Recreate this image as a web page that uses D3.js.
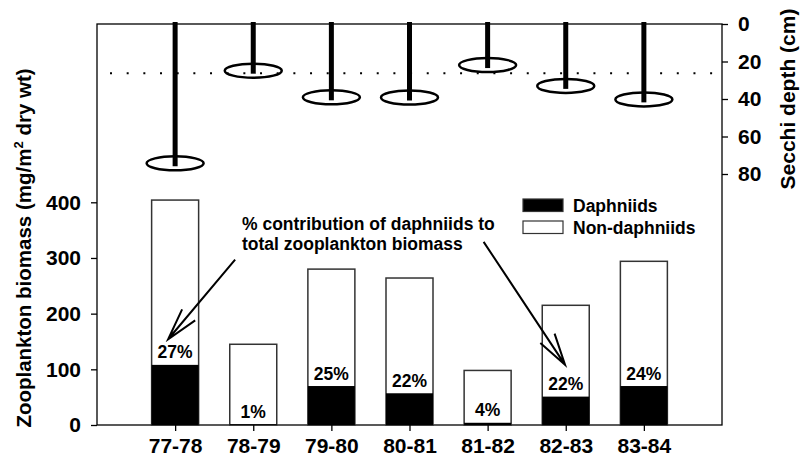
<!DOCTYPE html>
<html>
<head>
<meta charset="utf-8">
<script src="https://cdn.jsdelivr.net/npm/d3@7"></script>
<style>
  html, body { margin: 0; padding: 0; background: #fff; }
  svg { display: block; font-family: "Liberation Sans", Arial, sans-serif; font-weight: bold; }
</style>
</head>
<body>
<svg id="chart" width="800" height="462"></svg>
<script>
// ---- data ----
const categories = ["77-78", "78-79", "79-80", "80-81", "81-82", "82-83", "83-84"];
const totalBiomass = [404, 145, 280, 264, 98, 215, 294];
const daphniidBiomass = [108, 1.5, 70, 57, 4, 51, 70];
const pctLabels = ["27%", "1%", "25%", "22%", "4%", "22%", "24%"];
const secchiDepth = [74.3, 24.9, 39.1, 39.2, 21.9, 33, 40.2];
const secchiRef = 26.3;
const biomassTicks = [0, 100, 200, 300, 400];
const secchiTicks = [0, 20, 40, 60, 80];
const legendLabels = ["Daphniids", "Non-daphniids"];
const annotationLines = ["% contribution of daphniids to", "total zooplankton biomass"];

// ---- layout ----
const L = 97, R = 722, T = 24, B = 425;
const svg = d3.select("#chart");

const x = d3.scalePoint().domain(categories).range([L, R]).padding(1);
const yL = d3.scaleLinear().domain([0, 400]).range([B, 202.3]);
const yR = d3.scaleLinear().domain([0, 80]).range([T, 174]);
const barW = 47;

// frame
svg.append("rect").attr("x", L).attr("y", T).attr("width", R - L).attr("height", B - T)
  .attr("fill", "none").attr("stroke", "#000").attr("stroke-width", 1.3);

// reference dotted line
svg.append("line").attr("x1", 110).attr("x2", R).attr("y1", yR(secchiRef)).attr("y2", yR(secchiRef))
  .attr("stroke", "#000").attr("stroke-width", 2).attr("stroke-dasharray", "2,14.67");

// secchi sticks
svg.append("g").selectAll("line").data(categories).join("line")
  .attr("x1", d => x(d)).attr("x2", d => x(d))
  .attr("y1", yR(0) - 2).attr("y2", (d, i) => yR(secchiDepth[i]) + 3)
  .attr("stroke", "#000").attr("stroke-width", 5);
svg.append("g").selectAll("ellipse").data(categories).join("ellipse")
  .attr("cx", d => x(d)).attr("cy", (d, i) => yR(secchiDepth[i]))
  .attr("rx", 28.5).attr("ry", 7)
  .attr("fill", "none").attr("stroke", "#000").attr("stroke-width", 2.5);

// biomass bars
svg.append("g").selectAll("rect").data(categories).join("rect")
  .attr("x", d => x(d) - barW / 2).attr("width", barW)
  .attr("y", (d, i) => yL(totalBiomass[i])).attr("height", (d, i) => yL(0) - yL(totalBiomass[i]))
  .attr("fill", "#fff").attr("stroke", "#333").attr("stroke-width", 1.5);
svg.append("g").selectAll("rect").data(categories).join("rect")
  .attr("x", d => x(d) - barW / 2).attr("width", barW)
  .attr("y", (d, i) => yL(daphniidBiomass[i])).attr("height", (d, i) => yL(0) - yL(daphniidBiomass[i]))
  .attr("fill", "#000");

// percent labels
svg.append("g").selectAll("text").data(categories).join("text")
  .attr("x", d => x(d)).attr("y", (d, i) => yL(daphniidBiomass[i]) - 6.5)
  .attr("text-anchor", "middle").attr("font-size", 17.5)
  .text((d, i) => pctLabels[i]);

// axes
const axL = svg.append("g").attr("transform", `translate(${L},0)`)
  .call(d3.axisLeft(yL).tickValues(biomassTicks).tickSize(6).tickPadding(10).tickSizeOuter(0));
const axR = svg.append("g").attr("transform", `translate(${R},0)`)
  .call(d3.axisRight(yR).tickValues(secchiTicks).tickSize(6).tickPadding(10).tickSizeOuter(0));
const axB = svg.append("g").attr("transform", `translate(0,${B})`)
  .call(d3.axisBottom(x).tickSize(6).tickPadding(7).tickSizeOuter(0));
[axL, axR, axB].forEach(g => {
  g.select(".domain").remove();
  g.selectAll(".tick line").attr("stroke", "#000").attr("stroke-width", 1.3);
  g.selectAll(".tick text").attr("font-size", 21).attr("font-family", null).attr("fill", "#000");
});
axB.selectAll(".tick text").attr("dy", "0.72em");

// axis titles
const lt = svg.append("text").attr("transform", "translate(30.5,248) rotate(-90)")
  .attr("text-anchor", "middle").attr("font-size", 20.5);
lt.append("tspan").text("Zooplankton biomass (mg/m");
lt.append("tspan").attr("font-size", 13).attr("dy", -8).text("2");
lt.append("tspan").attr("dy", 8).text(" dry wt)");

svg.append("text").attr("transform", "translate(795,99) rotate(-90)")
  .attr("text-anchor", "middle").attr("font-size", 21).text("Secchi depth (cm)");

// legend
const lg = svg.append("g");
legendLabels.forEach((lab, i) => {
  const yy = 199 + i * 22;
  lg.append("rect").attr("x", 523).attr("y", yy).attr("width", 40).attr("height", 12.5)
    .attr("fill", i === 0 ? "#000" : "#fff").attr("stroke", "#333").attr("stroke-width", 1.2);
  lg.append("text").attr("x", 573).attr("y", yy + 12.5).attr("font-size", 17.5).text(lab);
});

// annotation text
annotationLines.forEach((t, i) => {
  svg.append("text").attr("x", 242).attr("y", 229.5 + i * 20).attr("font-size", 17.5).text(t);
});

// arrows
function arrow(x0, y0, x1, y1) {
  const ang = Math.atan2(y0 - y1, x0 - x1);
  const len = 33, spread = 15 * Math.PI / 180;
  const b1 = [x1 + len * Math.cos(ang + spread), y1 + len * Math.sin(ang + spread)];
  const b2 = [x1 + len * Math.cos(ang - spread), y1 + len * Math.sin(ang - spread)];
  const p = d3.path();
  p.moveTo(x0, y0); p.lineTo(x1, y1);
  p.moveTo(b1[0], b1[1]); p.lineTo(x1, y1); p.lineTo(b2[0], b2[1]);
  svg.append("path").attr("d", p.toString()).attr("fill", "none")
    .attr("stroke", "#000").attr("stroke-width", 2).attr("stroke-linejoin", "miter");
}
arrow(x("77-78") + 60, yL(297), x("77-78") - 7, yL(154));
arrow(x("81-82") - 4, yL(329), x("82-83") - 0.7, yL(108));
</script>
</body>
</html>
